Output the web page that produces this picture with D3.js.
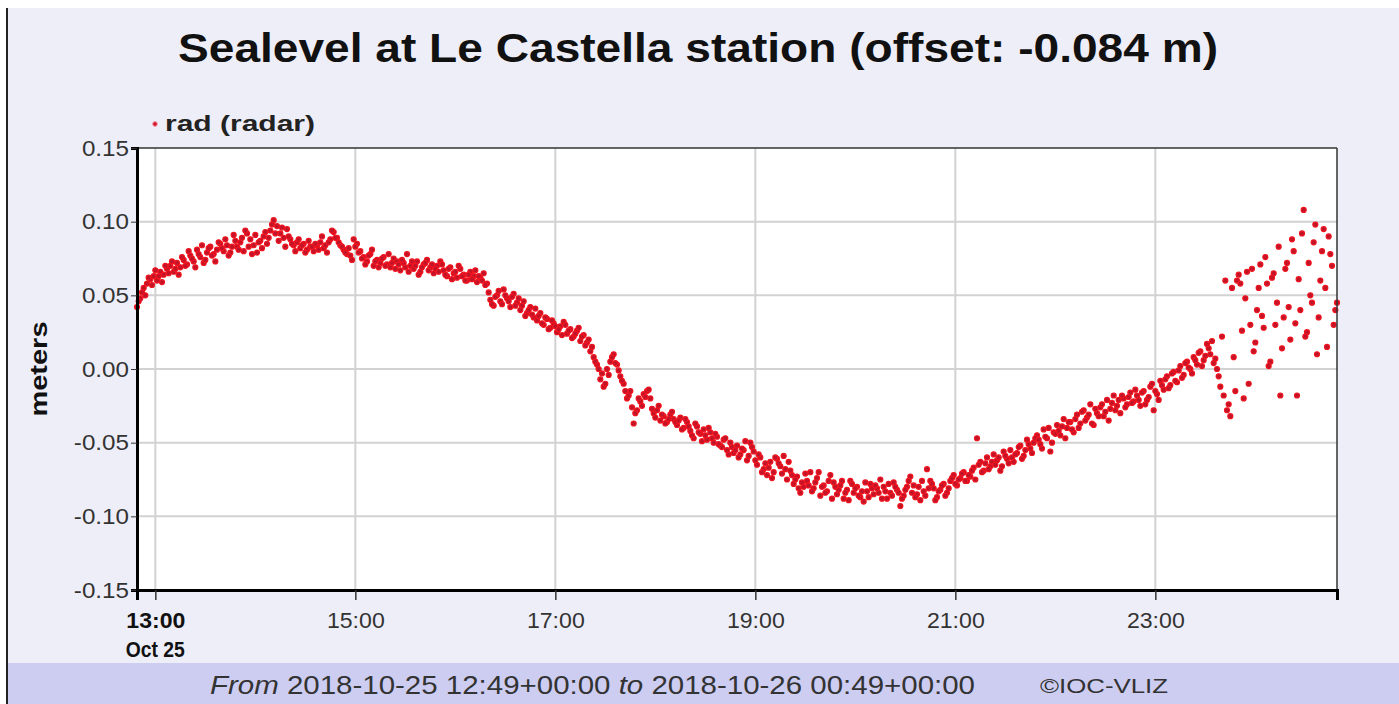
<!DOCTYPE html>
<html>
<head>
<meta charset="utf-8">
<script src="https://cdn.jsdelivr.net/npm/d3@7"></script>
<style>
  html, body { margin: 0; padding: 0; background: #fff; }
  svg { display: block; font-family: "Liberation Sans", Arial, sans-serif; }
</style>
</head>
<body>
<svg id="chart" width="1399" height="704"></svg>
<script>
// sea level samples (meters, offset removed).
// "e" arrays start at 12:49 UTC, "o" arrays at 12:50 UTC, both every 2 minutes
const startEven = "2018-10-25T12:49:00Z";
const startOdd = "2018-10-25T12:50:00Z";
const endTime = "2018-10-26T00:49:00Z";
const stepMinutes = 2;

const e1249 = [0.042, 0.048, 0.055, 0.058, 0.061, 0.063, 0.060, 0.066, 0.064, 0.068, 0.070, 0.066, 0.072, 0.069, 0.074, 0.071, 0.077, 0.073, 0.081, 0.076, 0.072, 0.079, 0.083, 0.078, 0.081, 0.085, 0.080, 0.084, 0.079, 0.091];
const e1349 = [0.083, 0.086, 0.080, 0.092, 0.088, 0.084, 0.079, 0.087, 0.090, 0.085, 0.094, 0.101, 0.097, 0.092, 0.089, 0.095, 0.088, 0.084, 0.086, 0.082, 0.085, 0.081, 0.083, 0.080, 0.084, 0.086, 0.082, 0.079, 0.088, 0.093];
const e1449 = [0.089, 0.084, 0.081, 0.078, 0.077, 0.088, 0.085, 0.080, 0.076, 0.073, 0.078, 0.070, 0.074, 0.072, 0.076, 0.071, 0.069, 0.075, 0.073, 0.067, 0.072, 0.078, 0.070, 0.068, 0.073, 0.066, 0.071, 0.074, 0.069, 0.065];
const e1549 = [0.070, 0.073, 0.067, 0.063, 0.069, 0.065, 0.062, 0.068, 0.064, 0.060, 0.066, 0.063, 0.059, 0.062, 0.065, 0.058, 0.047, 0.043, 0.050, 0.046, 0.054, 0.048, 0.042, 0.051, 0.045, 0.040, 0.046, 0.038, 0.042, 0.035];
const e1649 = [0.033, 0.038, 0.030, 0.034, 0.028, 0.031, 0.025, 0.029, 0.032, 0.024, 0.027, 0.022, 0.026, 0.019, 0.023, 0.018, 0.012, 0.008, 0.003, -0.007, -0.012, 0.000, 0.005, 0.010, 0.003, -0.005, -0.010, -0.020, -0.015, -0.037];
const e1749 = [-0.028, -0.022, -0.017, -0.015, -0.020, -0.030, -0.028, -0.035, -0.032, -0.036, -0.031, -0.034, -0.038, -0.033, -0.040, -0.036, -0.042, -0.047, -0.039, -0.044, -0.041, -0.048, -0.043, -0.050, -0.046, -0.052, -0.048, -0.055, -0.050, -0.057];
const e1849 = [-0.052, -0.058, -0.055, -0.062, -0.050, -0.056, -0.065, -0.060, -0.068, -0.072, -0.063, -0.070, -0.061, -0.066, -0.059, -0.075, -0.069, -0.078, -0.073, -0.084, -0.080, -0.076, -0.070, -0.081, -0.074, -0.086, -0.079, -0.083, -0.072, -0.077];
const e1949 = [-0.085, -0.079, -0.088, -0.082, -0.076, -0.084, -0.080, -0.087, -0.090, -0.083, -0.078, -0.085, -0.081, -0.075, -0.080, -0.088, -0.084, -0.077, -0.082, -0.093, -0.086, -0.080, -0.073, -0.079, -0.085, -0.089, -0.083, -0.068, -0.076, -0.081];
const e2049 = [-0.087, -0.082, -0.078, -0.084, -0.076, -0.072, -0.079, -0.074, -0.070, -0.076, -0.073, -0.067, -0.047, -0.063, -0.069, -0.060, -0.066, -0.058, -0.062, -0.069, -0.056, -0.061, -0.055, -0.063, -0.057, -0.052, -0.059, -0.048, -0.054, -0.050];
const e2149 = [-0.045, -0.051, -0.041, -0.047, -0.056, -0.043, -0.038, -0.045, -0.034, -0.040, -0.036, -0.043, -0.031, -0.037, -0.028, -0.033, -0.024, -0.038, -0.030, -0.026, -0.032, -0.021, -0.027, -0.018, -0.025, -0.030, -0.020, -0.024, -0.016, -0.022];
const e2249 = [-0.018, -0.025, -0.015, -0.021, -0.012, -0.028, -0.017, -0.008, -0.014, -0.005, -0.011, -0.002, -0.009, 0.002, -0.004, 0.005, 0.000, 0.008, 0.003, 0.012, 0.006, 0.017, 0.010, 0.004, 0.000, -0.012, -0.018, -0.028, -0.032, 0.008];
const e2349 = [0.060, 0.058, -0.020, 0.066, 0.030, 0.012, 0.040, 0.071, 0.028, 0.058, 0.005, 0.065, 0.045, -0.018, 0.035, 0.072, 0.020, 0.080, -0.018, 0.040, 0.108, 0.025, 0.050, 0.086, 0.010, 0.060, 0.095, 0.015, 0.078, 0.030, 0.045];

const o1250 = [0.046, 0.052, 0.050, 0.062, 0.057, 0.067, 0.063, 0.059, 0.070, 0.065, 0.073, 0.068, 0.064, 0.076, 0.070, 0.080, 0.075, 0.069, 0.078, 0.084, 0.074, 0.082, 0.077, 0.073, 0.086, 0.082, 0.088, 0.077, 0.083, 0.087];
const o1350 = [0.081, 0.089, 0.094, 0.083, 0.078, 0.091, 0.086, 0.082, 0.093, 0.089, 0.098, 0.092, 0.087, 0.096, 0.083, 0.090, 0.085, 0.080, 0.088, 0.084, 0.079, 0.087, 0.083, 0.085, 0.081, 0.090, 0.084, 0.086, 0.094, 0.089];
const o1450 = [0.086, 0.083, 0.079, 0.082, 0.074, 0.083, 0.079, 0.075, 0.071, 0.077, 0.081, 0.073, 0.069, 0.075, 0.070, 0.078, 0.072, 0.068, 0.071, 0.074, 0.069, 0.066, 0.073, 0.070, 0.064, 0.069, 0.072, 0.067, 0.071, 0.068];
const o1550 = [0.066, 0.071, 0.064, 0.068, 0.061, 0.066, 0.070, 0.063, 0.060, 0.064, 0.061, 0.067, 0.063, 0.060, 0.057, 0.052, 0.044, 0.049, 0.053, 0.044, 0.050, 0.046, 0.049, 0.043, 0.048, 0.043, 0.036, 0.040, 0.037, 0.041];
const o1650 = [0.036, 0.031, 0.035, 0.027, 0.033, 0.029, 0.027, 0.023, 0.030, 0.026, 0.021, 0.024, 0.028, 0.022, 0.016, 0.020, 0.015, 0.005, 0.000, -0.003, -0.010, -0.004, 0.008, 0.004, -0.001, -0.008, -0.015, -0.018, -0.026, -0.030];
const o1750 = [-0.020, -0.025, -0.019, -0.014, -0.027, -0.033, -0.025, -0.031, -0.037, -0.034, -0.029, -0.036, -0.035, -0.041, -0.034, -0.039, -0.045, -0.037, -0.043, -0.049, -0.045, -0.040, -0.047, -0.044, -0.051, -0.053, -0.047, -0.058, -0.053, -0.055];
const o1850 = [-0.060, -0.054, -0.049, -0.059, -0.053, -0.062, -0.058, -0.070, -0.064, -0.067, -0.074, -0.060, -0.064, -0.071, -0.068, -0.063, -0.072, -0.075, -0.081, -0.077, -0.071, -0.079, -0.083, -0.077, -0.070, -0.080, -0.084, -0.076, -0.088, -0.080];
const o1950 = [-0.082, -0.076, -0.084, -0.089, -0.078, -0.081, -0.086, -0.083, -0.077, -0.087, -0.081, -0.079, -0.084, -0.088, -0.083, -0.078, -0.086, -0.080, -0.084, -0.088, -0.082, -0.076, -0.084, -0.087, -0.080, -0.076, -0.086, -0.081, -0.078, -0.089];
const o2050 = [-0.083, -0.079, -0.086, -0.081, -0.074, -0.078, -0.075, -0.071, -0.076, -0.072, -0.069, -0.075, -0.065, -0.070, -0.064, -0.068, -0.063, -0.065, -0.060, -0.066, -0.059, -0.064, -0.060, -0.058, -0.053, -0.061, -0.055, -0.051, -0.057, -0.047];
const o2150 = [-0.048, -0.054, -0.046, -0.040, -0.050, -0.044, -0.042, -0.039, -0.047, -0.036, -0.041, -0.034, -0.040, -0.029, -0.035, -0.031, -0.037, -0.027, -0.032, -0.024, -0.029, -0.035, -0.023, -0.028, -0.021, -0.018, -0.026, -0.019, -0.023, -0.014];
const o2250 = [-0.021, -0.016, -0.024, -0.019, -0.010, -0.015, -0.021, -0.011, -0.007, -0.013, -0.003, -0.008, -0.001, -0.006, 0.004, 0.001, -0.003, 0.006, 0.011, 0.002, 0.009, 0.014, 0.019, 0.007, -0.005, 0.022, 0.060, -0.024, 0.055, -0.015];
const o2350 = [0.064, 0.026, 0.048, -0.010, 0.068, 0.018, 0.055, 0.036, 0.076, 0.002, 0.062, 0.030, 0.083, 0.014, 0.068, 0.042, 0.088, 0.031, 0.061, 0.092, 0.022, 0.072, 0.045, 0.098, 0.035, 0.080, 0.055, 0.090, 0.070, 0.040];

const evenLevels = [].concat(e1249, e1349, e1449, e1549, e1649, e1749, e1849, e1949, e2049, e2149, e2249, e2349);
const oddLevels = [].concat(o1250, o1350, o1450, o1550, o1650, o1750, o1850, o1950, o2050, o2150, o2250, o2350);

const yTicks = [-0.15, -0.10, -0.05, 0.00, 0.05, 0.10, 0.15];
const xTicks = ["2018-10-25T13:00:00Z", "2018-10-25T15:00:00Z", "2018-10-25T17:00:00Z", "2018-10-25T19:00:00Z", "2018-10-25T21:00:00Z", "2018-10-25T23:00:00Z"];

const svg = d3.select("#chart");
const W = 1399, H = 704;
const plot = { left: 137, right: 1337, top: 148, bottom: 590 };

function fit(sel, w) {
    return sel.attr("textLength", w).attr("lengthAdjust", "spacingAndGlyphs");
}
function stretch(sel, k) {
    sel.each(function () {
        const n = this.getComputedTextLength();
        d3.select(this).attr("textLength", n * k).attr("lengthAdjust", "spacingAndGlyphs");
    });
}

// page background + footer band
svg.append("rect").attr("x", 7).attr("y", 8).attr("width", W - 7).attr("height", H - 8).attr("fill", "#eeeef8");
svg.append("rect").attr("x", 7).attr("y", 663).attr("width", W - 7).attr("height", H - 663).attr("fill", "#cdcdf2");
svg.append("line").attr("x1", 7).attr("x2", 7).attr("y1", 8).attr("y2", H).attr("stroke", "#222").attr("stroke-width", 2);

const x = d3.scaleUtc()
    .domain([new Date(startEven), new Date(endTime)])
    .range([plot.left, plot.right]);
const y = d3.scaleLinear()
    .domain([-0.15, 0.15])
    .range([plot.bottom, plot.top]);

svg.append("rect")
    .attr("x", plot.left).attr("y", plot.top)
    .attr("width", plot.right - plot.left).attr("height", plot.bottom - plot.top)
    .attr("fill", "#fff");

// grid
const tickDates = xTicks.map(d => new Date(d));
svg.append("g")
    .selectAll("line").data(tickDates).join("line")
    .attr("x1", d => x(d)).attr("x2", d => x(d))
    .attr("y1", plot.top).attr("y2", plot.bottom)
    .attr("stroke", "#d2d2d2").attr("stroke-width", 2);
svg.append("g")
    .selectAll("line").data(yTicks.slice(1, -1)).join("line")
    .attr("x1", plot.left).attr("x2", plot.right)
    .attr("y1", d => y(d)).attr("y2", d => y(d))
    .attr("stroke", "#d2d2d2").attr("stroke-width", 2);

// points
const toPoints = (arr, start) => arr.map((v, i) => ({ t: new Date(+new Date(start) + i * stepMinutes * 60000), v }));
const pts = toPoints(evenLevels, startEven).concat(toPoints(oddLevels, startOdd));
svg.append("g")
    .selectAll("circle").data(pts).join("circle")
    .attr("cx", d => x(d.t)).attr("cy", d => y(d.v))
    .attr("r", 2.5)
    .attr("fill", "#c0142a")
    .attr("stroke", "#f0141e")
    .attr("stroke-width", 1.2);

// frame
svg.append("line").attr("x1", plot.left).attr("x2", plot.right).attr("y1", plot.top).attr("y2", plot.top).attr("stroke", "#333").attr("stroke-width", 1.5);
svg.append("line").attr("x1", plot.right).attr("x2", plot.right).attr("y1", plot.top).attr("y2", plot.bottom).attr("stroke", "#333").attr("stroke-width", 1.5);

// axes
const yAxis = svg.append("g")
    .attr("transform", `translate(${plot.left},0)`)
    .call(d3.axisLeft(y).tickValues(yTicks).tickFormat(d => d.toFixed(2)).tickSize(6).tickPadding(2));
yAxis.select(".domain").attr("stroke", "#000").attr("stroke-width", 3);
yAxis.selectAll(".tick line").attr("stroke", "#333");
yAxis.selectAll(".tick text").attr("font-size", 22).attr("fill", "#333").attr("font-family", "Liberation Sans, Arial, sans-serif")
    .call(stretch, 1.1);

const xAxis = svg.append("g")
    .attr("transform", `translate(0,${plot.bottom})`)
    .call(d3.axisBottom(x).tickValues(tickDates).tickFormat(d3.utcFormat("%H:%M")).tickSize(10).tickPadding(12));
xAxis.select(".domain").attr("stroke", "#000").attr("stroke-width", 3);
xAxis.selectAll(".tick line").attr("stroke", "#333").attr("stroke-width", 1.5);
xAxis.selectAll(".tick text").attr("font-size", 22).attr("font-family", "Liberation Sans, Arial, sans-serif")
    .attr("font-weight", (d, i) => i === 0 ? "bold" : null)
    .attr("fill", (d, i) => i === 0 ? "#111" : "#333")
    .call(stretch, 1.05);
svg.append("text")
    .attr("x", x(tickDates[0])).attr("y", 657)
    .attr("text-anchor", "middle").attr("font-size", 22).attr("font-weight", "bold").attr("fill", "#111")
    .text(d3.utcFormat("%b %d")(tickDates[0]))
    .call(fit, 59);

// title
svg.append("text")
    .attr("x", 698).attr("y", 62)
    .attr("text-anchor", "middle")
    .attr("font-size", 40).attr("font-weight", "bold").attr("fill", "#111")
    .text("Sealevel at Le Castella station (offset: -0.084 m)")
    .call(fit, 1040);

// legend
svg.append("circle").attr("cx", 155).attr("cy", 124).attr("r", 2.4).attr("fill", "#d01830").attr("stroke", "#f4a0a8").attr("stroke-width", 1);
svg.append("text")
    .attr("x", 165).attr("y", 131)
    .attr("font-size", 22).attr("font-weight", "bold").attr("fill", "#222")
    .text("rad (radar)")
    .call(fit, 150);

// y label
svg.append("text")
    .attr("transform", `translate(47,${y(0)}) rotate(-90)`)
    .attr("text-anchor", "middle")
    .attr("font-size", 24).attr("font-weight", "bold").attr("fill", "#111")
    .text("meters")
    .call(fit, 95);

// footer
const foot = svg.append("text").attr("x", 210).attr("y", 694).attr("font-size", 25).attr("fill", "#333");
foot.append("tspan").attr("font-style", "italic").text("From");
foot.append("tspan").text(" 2018-10-25 12:49+00:00 ");
foot.append("tspan").attr("font-style", "italic").text("to");
foot.append("tspan").text(" 2018-10-26 00:49+00:00");
fit(foot, 765);
svg.append("text").attr("x", 1040).attr("y", 693).attr("font-size", 21).attr("fill", "#333").text("\u00a9IOC-VLIZ")
    .call(fit, 128);
</script>
</body>
</html>
